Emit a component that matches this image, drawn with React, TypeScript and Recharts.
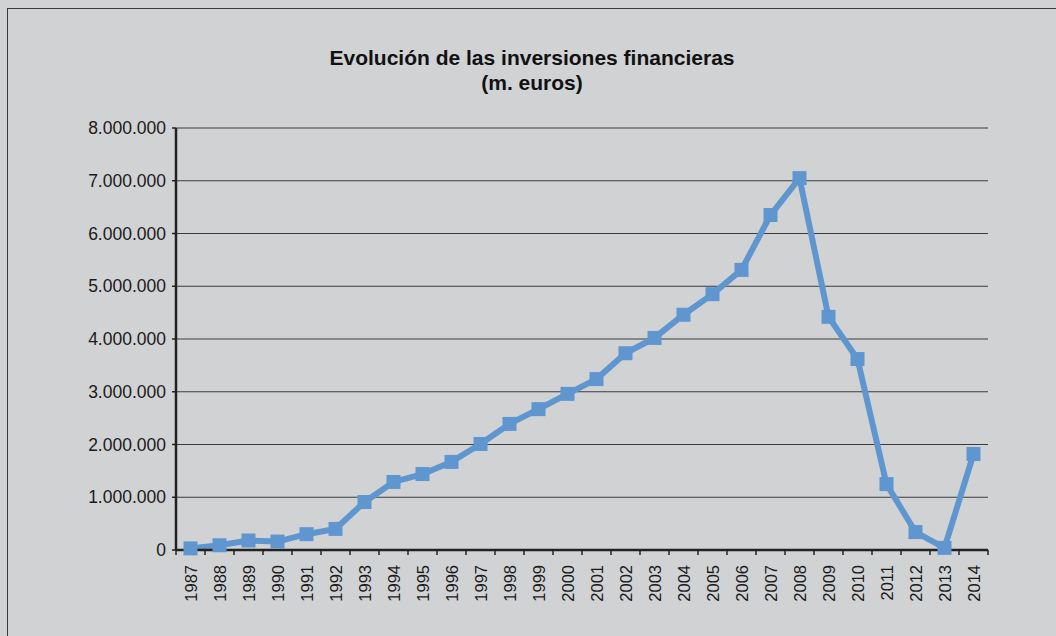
import React from "react"
import { CartesianGrid, Line, LineChart, XAxis, YAxis } from "recharts"

const years = [
  "1987", "1988", "1989", "1990", "1991", "1992", "1993", "1994", "1995", "1996",
  "1997", "1998", "1999", "2000", "2001", "2002", "2003", "2004", "2005", "2006",
  "2007", "2008", "2009", "2010", "2011", "2012", "2013", "2014",
]

const inversiones = [
  30000, 90000, 180000, 160000, 300000, 400000, 910000, 1290000, 1440000, 1670000,
  2010000, 2390000, 2670000, 2960000, 3240000, 3730000, 4020000, 4460000, 4850000, 5310000,
  6350000, 7050000, 4420000, 3620000, 1250000, 340000, 40000, 1820000,
]

const yTicks = [0, 1000000, 2000000, 3000000, 4000000, 5000000, 6000000, 7000000, 8000000]

const data = years.map((year, i) => ({ year, value: inversiones[i] }))

const W = 1056
const H = 636
const LEFT = 176
const RIGHT = 988
const step = (RIGHT - LEFT) / years.length
const font = "'Liberation Sans', Arial, sans-serif"

const fmt = (v: number) => String(v).replace(/\B(?=(\d{3})+(?!\d))/g, ".")

const XTick = (props: any) => {
  const { x, y, payload, index } = props
  const ty = y + 15
  return (
    <g>
      <line x1={x - step / 2} x2={x - step / 2} y1={y} y2={y + 5} stroke="#222" strokeWidth={1.5} />
      {index === years.length - 1 && (
        <line x1={x + step / 2} x2={x + step / 2} y1={y} y2={y + 5} stroke="#222" strokeWidth={1.5} />
      )}
      <text
        x={x}
        y={ty}
        transform={`rotate(-90, ${x}, ${ty})`}
        textAnchor="end"
        dominantBaseline="central"
        fontSize={16.5}
        fill="#1a1a1a"
        fontFamily={font}
      >
        {payload.value}
      </text>
    </g>
  )
}

const SquareDot = (props: any) => {
  const { cx, cy, index } = props
  if (cx == null || cy == null) return null
  return <rect key={index} x={cx - 7} y={cy - 7} width={14} height={14} fill="#5f96d0" />
}

export default function App() {
  return (
    <div
      style={{
        position: "absolute",
        left: 0,
        top: 0,
        width: W,
        height: H,
        overflow: "hidden",
        background: "#d1d2d4",
        fontFamily: font,
      }}
    >
      <div
        style={{
          position: "absolute",
          left: 7,
          top: 8,
          width: 1100,
          height: 700,
          border: "1.5px solid #3a3a3a",
        }}
      />
      <div
        style={{
          position: "absolute",
          left: 0,
          top: 45,
          width: 1064,
          textAlign: "center",
          fontWeight: "bold",
          fontSize: 21,
          lineHeight: "25px",
          color: "#111",
        }}
      >
        Evolución de las inversiones financieras
        <br />
        (m. euros)
      </div>
      <div style={{ position: "absolute", left: 0, top: 0 }}>
        <LineChart width={W} height={H} data={data} margin={{ top: 128, right: W - RIGHT, left: 0, bottom: 0 }}>
          <CartesianGrid vertical={false} stroke="#3c3c3c" strokeWidth={1.2} />
          <XAxis
            dataKey="year"
            height={86}
            padding={{ left: step / 2, right: step / 2 }}
            axisLine={{ stroke: "#222", strokeWidth: 2.5 }}
            tickLine={false}
            tickSize={0}
            tickMargin={0}
            interval={0}
            tick={<XTick />}
          />
          <YAxis
            width={LEFT}
            domain={[0, 8000000]}
            ticks={yTicks}
            interval={0}
            tickFormatter={fmt}
            axisLine={{ stroke: "#222", strokeWidth: 2.5 }}
            tickLine={{ stroke: "#222", strokeWidth: 1.5 }}
            tickSize={4}
            tickMargin={6}
            tick={{ fontSize: 17.5, fill: "#1a1a1a", fontFamily: font }}
          />
          <Line
            dataKey="value"
            stroke="#5f96d0"
            strokeWidth={6}
            dot={<SquareDot />}
            activeDot={false}
            isAnimationActive={false}
          />
        </LineChart>
      </div>
    </div>
  )
}
